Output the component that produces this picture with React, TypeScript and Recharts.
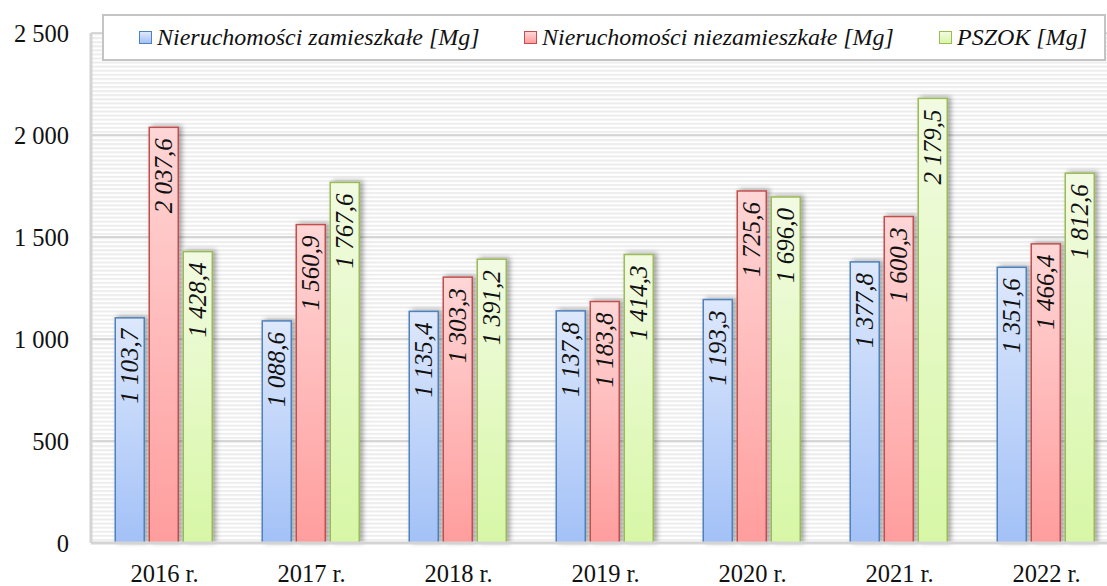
import { BarChart, Bar, XAxis, YAxis, CartesianGrid, LabelList } from "recharts";

const years = ["2016 r.", "2017 r.", "2018 r.", "2019 r.", "2020 r.", "2021 r.", "2022 r."];
const zamieszkale = [1103.7, 1088.6, 1135.4, 1137.8, 1193.3, 1377.8, 1351.6];
const niezamieszkale = [2037.6, 1560.9, 1303.3, 1183.8, 1725.6, 1600.3, 1466.4];
const pszok = [1428.4, 1767.6, 1391.2, 1414.3, 1696.0, 2179.5, 1812.6];
const yTicks = [0, 500, 1000, 1500, 2000, 2500];

const series = [
  { key: "a", name: "Nieruchomości zamieszkałe [Mg]", stroke: "#4f81bd", top: "#dde8fc", bottom: "#a3c1f7", legendX: 139 },
  { key: "b", name: "Nieruchomości niezamieszkałe [Mg]", stroke: "#c0504d", top: "#ffd6d6", bottom: "#ff9d9d", legendX: 524 },
  { key: "c", name: "PSZOK [Mg]", stroke: "#9bbb59", top: "#f2fbe2", bottom: "#d7f7a6", legendX: 939 },
];

const data = years.map((year, i) => ({
  year,
  a: zamieszkale[i],
  b: niezamieszkale[i],
  c: pszok[i],
}));

const FONT = "'Liberation Serif', serif";

// 1 103,7 style
const fmt = (v: number) => {
  const [int, dec] = v.toFixed(1).split(".");
  return int.replace(/\B(?=(\d{3})+(?!\d))/g, " ") + "," + dec;
};

const makeShape = (s: (typeof series)[number]) => (props: any) => {
  const { x, y, width, height } = props;
  if (!height || height <= 0) return null;
  return (
    <rect
      x={x}
      y={y}
      width={width}
      height={height}
      fill={`url(#grad-${s.key})`}
      stroke={s.stroke}
      strokeWidth={1.5}
      filter="url(#barShadow)"
    />
  );
};

const VLabel = (props: any) => {
  const { x, y, width, value } = props;
  const cx = x + width / 2;
  const cy = y + 11;
  return (
    <text
      x={cx}
      y={cy}
      transform={`rotate(-90 ${cx} ${cy})`}
      textAnchor="end"
      dominantBaseline="central"
      fontFamily={FONT}
      fontStyle="italic"
      fontSize={25}
      fill="#111"
    >
      {fmt(value)}
    </text>
  );
};

const LegendBox = () => (
  <div
    style={{
      position: "absolute",
      left: 102,
      top: 14,
      width: 1004,
      height: 47,
      boxSizing: "border-box",
      border: "2px solid #c4c4c4",
      background: "#fff",
      fontFamily: FONT,
      fontStyle: "italic",
      fontSize: 24,
      color: "#111",
    }}
  >
    {series.map((s) => (
      <div
        key={s.key}
        style={{
          position: "absolute",
          left: s.legendX - 104,
          top: 0,
          height: 43,
          display: "flex",
          alignItems: "center",
          gap: 5,
          whiteSpace: "nowrap",
        }}
      >
        <span
          style={{
            display: "inline-block",
            width: 13,
            height: 13,
            boxSizing: "border-box",
            border: `1.5px solid ${s.stroke}`,
            background: `linear-gradient(${s.top}, ${s.bottom})`,
          }}
        />
        <span>{s.name}</span>
      </div>
    ))}
  </div>
);

export default function App() {
  return (
    <div
      style={{
        position: "absolute",
        left: 0,
        top: 0,
        width: 1107,
        height: 586,
        overflow: "hidden",
        background: "#fff",
      }}
    >
      <BarChart
        width={1120}
        height={586}
        data={data}
        margin={{ top: 33, right: 0, left: 0, bottom: 0 }}
        barCategoryGap="16.5%"
        barGap={5}
      >
        <defs>
          {series.map((s) => (
            <linearGradient key={s.key} id={`grad-${s.key}`} x1="0" y1="0" x2="0" y2="1">
              <stop offset="0%" stopColor={s.top} />
              <stop offset="100%" stopColor={s.bottom} />
            </linearGradient>
          ))}
          <pattern id="stripes" patternUnits="userSpaceOnUse" x={0} y={33} width={8} height={4.08}>
            <rect x={0} y={0} width={8} height={4.08} fill="#ffffff" />
            <rect x={0} y={0} width={8} height={2} fill="#ededed" />
          </pattern>
          <filter id="barShadow" x="-40%" y="-10%" width="200%" height="130%">
            <feDropShadow dx={3} dy={-1} stdDeviation={2.5} floodColor="#000" floodOpacity={0.35} />
          </filter>
        </defs>
        <CartesianGrid vertical={false} fill="url(#stripes)" stroke="#cbcbcb" strokeWidth={1.5} />
        <XAxis
          dataKey="year"
          axisLine={{ stroke: "#d4d4d4", strokeWidth: 3 }}
          tickLine={false}
          tickSize={0}
          tickMargin={22}
          height={43}
          tick={{ fontFamily: FONT, fontSize: 24.5, fill: "#111" }}
        />
        <YAxis
          domain={[0, 2500]}
          ticks={yTicks}
          width={91}
          axisLine={{ stroke: "#d4d4d4", strokeWidth: 3 }}
          tickLine={false}
          tickSize={0}
          tickMargin={22}
          tickFormatter={(v: number) => (v >= 1000 ? fmt(v).replace(/,0$/, "") : String(v))}
          tick={{ fontFamily: FONT, fontSize: 24.5, fill: "#111" }}
        />
        {series.map((s) => (
          <Bar
            key={s.key}
            dataKey={s.key}
            name={s.name}
            fill={`url(#grad-${s.key})`}
            stroke={s.stroke}
            shape={makeShape(s)}
            isAnimationActive={false}
          >
            <LabelList dataKey={s.key} content={<VLabel />} />
          </Bar>
        ))}
      </BarChart>
      <LegendBox />
    </div>
  );
}
